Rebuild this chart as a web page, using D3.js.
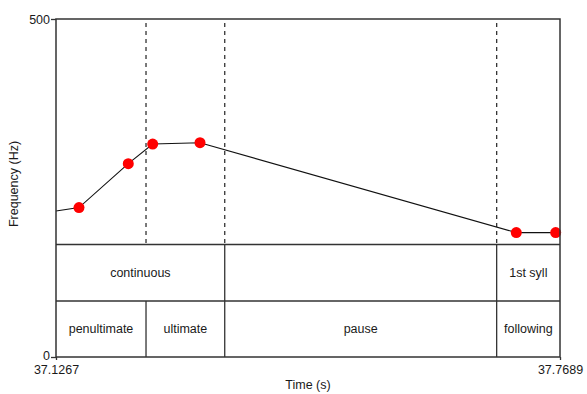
<!DOCTYPE html>
<html>
<head>
<meta charset="utf-8">
<script src="https://cdn.jsdelivr.net/npm/d3@7"></script>
<style>
  html, body { margin: 0; padding: 0; background: #fff; }
  svg { display: block; }
  text { font-family: "Liberation Sans", Arial, sans-serif; fill: #1a1a1a; }
</style>
</head>
<body>
<svg id="chart" width="587" height="394"></svg>
<script>
// ---- data ----
const timeDomain = [37.1267, 37.7689];
const hzDomain = [0, 500];
const yTickLabels = ["0", "500"];
const xTickLabels = ["37.1267", "37.7689"];

// pitch contour (start of contour + sampled points)
const contourTimes = [37.1267, 37.1560, 37.2188, 37.2499, 37.3102, 37.7132, 37.7634];
const contourHz    = [216,     221,     286,     315,     317,     184,     184];

// highlighted pitch points (red dots)
const pointTimes = [37.1560, 37.2188, 37.2499, 37.3102, 37.7132, 37.7634];
const pointHz    = [221,     286,     315,     317,     184,     184];

// boundaries drawn as dashed lines in pitch panel
const boundaryTimes = [37.2414, 37.3417, 37.6882];

// tier 1 intervals
const tier1Starts = [37.1267, 37.3417, 37.6882];
const tier1Ends   = [37.3417, 37.6882, 37.7689];
const tier1Labels = ["continuous", "", "1st syll"];

// tier 2 intervals
const tier2Starts = [37.1267, 37.2414, 37.3417, 37.6882];
const tier2Ends   = [37.2414, 37.3417, 37.6882, 37.7689];
const tier2Labels = ["penultimate", "ultimate", "pause", "following"];

// ---- layout ----
const mLeft = 56, mRight = 560, mTop = 19, mBottom = 357;
const tier1Top = 244.5, tier2Top = 301;

const svg = d3.select("#chart");
const x = d3.scaleLinear().domain(timeDomain).range([mLeft, mRight]);
const y = d3.scaleLinear().domain(hzDomain).range([mBottom, mTop]);

const frameColor = "#333";

// dashed boundaries in pitch area
svg.append("g").selectAll("line").data(boundaryTimes).join("line")
  .attr("x1", d => x(d)).attr("x2", d => x(d))
  .attr("y1", mTop).attr("y2", tier1Top)
  .attr("stroke", "#333").attr("stroke-width", 1.3)
  .attr("stroke-dasharray", "4,4")
  .attr("stroke-dashoffset", -4);

// contour line
const line = d3.line().x(d => x(d[0])).y(d => y(d[1]));
svg.append("path")
  .datum(contourTimes.map((t, i) => [t, contourHz[i]]))
  .attr("d", line)
  .attr("fill", "none").attr("stroke", "#111").attr("stroke-width", 1.1);

// red points
svg.append("g").selectAll("circle").data(pointTimes.map((t, i) => [t, pointHz[i]])).join("circle")
  .attr("cx", d => x(d[0])).attr("cy", d => y(d[1]))
  .attr("r", 5.5).attr("fill", "#ff0000");

// tier horizontal lines
[tier1Top, tier2Top].forEach(yy => {
  svg.append("line").attr("x1", mLeft).attr("x2", mRight).attr("y1", yy).attr("y2", yy)
    .attr("stroke", frameColor).attr("stroke-width", 1.3);
});

// tier boundaries and labels
function drawTier(starts, ends, labels, y0, y1) {
  const g = svg.append("g");
  g.selectAll("line").data(starts.slice(1)).join("line")
    .attr("x1", d => x(d)).attr("x2", d => x(d))
    .attr("y1", y0).attr("y2", y1)
    .attr("stroke", frameColor).attr("stroke-width", 1.3);
  g.selectAll("text").data(labels).join("text")
    .attr("x", (d, i) => (x(starts[i]) + x(ends[i])) / 2)
    .attr("y", (y0 + y1) / 2)
    .attr("text-anchor", "middle").attr("dominant-baseline", "central")
    .attr("font-size", 12.5)
    .text(d => d);
}
drawTier(tier1Starts, tier1Ends, tier1Labels, tier1Top, tier2Top);
drawTier(tier2Starts, tier2Ends, tier2Labels, tier2Top, mBottom);

// frame
svg.append("rect").attr("x", mLeft).attr("y", mTop)
  .attr("width", mRight - mLeft).attr("height", mBottom - mTop)
  .attr("fill", "none").attr("stroke", frameColor).attr("stroke-width", 1.5);

// y axis ticks
const yAxis = d3.axisLeft(y).tickValues(hzDomain).tickFormat((d, i) => yTickLabels[i]).tickSize(5).tickPadding(1);
const ya = svg.append("g").attr("transform", `translate(${mLeft},0)`).call(yAxis);
ya.select(".domain").remove();
ya.selectAll("line").attr("stroke", frameColor).attr("stroke-width", 1.3);
ya.selectAll("text").attr("font-size", 12.5).attr("fill", "#1a1a1a")
  .attr("font-family", "Liberation Sans, Arial, sans-serif")
  .attr("dy", (d, i) => i === 0 ? "0.2em" : "0.32em");

// x axis ticks
const xAxis = d3.axisBottom(x).tickValues(timeDomain).tickFormat((d, i) => xTickLabels[i]).tickSize(3).tickPadding(5);
const xa = svg.append("g").attr("transform", `translate(0,${mBottom})`).call(xAxis);
xa.select(".domain").remove();
xa.selectAll("line").attr("stroke", frameColor).attr("stroke-width", 1.3);
xa.selectAll("text").attr("font-size", 12.5).attr("fill", "#1a1a1a")
  .attr("font-family", "Liberation Sans, Arial, sans-serif");

// axis titles
svg.append("text").attr("x", (mLeft + mRight) / 2).attr("y", 389)
  .attr("text-anchor", "middle").attr("font-size", 12.5).text("Time (s)");
svg.append("text").attr("transform", "translate(14,184) rotate(-90)")
  .attr("text-anchor", "middle").attr("dominant-baseline", "central")
  .attr("font-size", 12.5).text("Frequency (Hz)");
</script>
</body>
</html>
